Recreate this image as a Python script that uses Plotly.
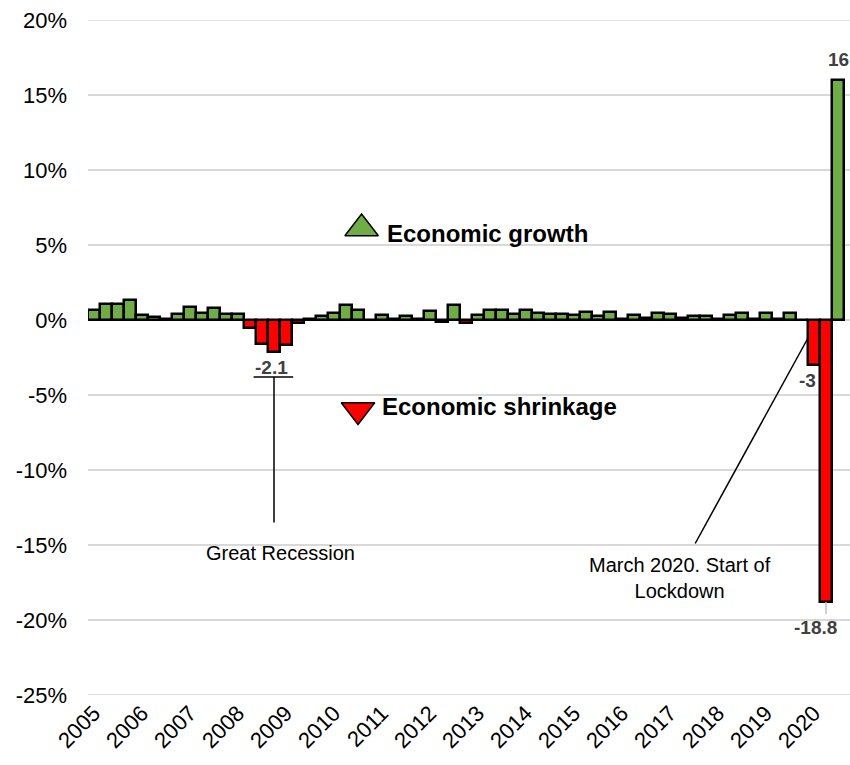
import plotly.graph_objects as go

years = [str(y) for y in range(2005, 2021)]
growth = [
    0.65, 1.05, 1.05, 1.35,   # 2005
    0.35, 0.2, 0.1, 0.4,      # 2006
    0.85, 0.45, 0.8, 0.4,     # 2007
    0.4, -0.55, -1.6, -2.1,   # 2008
    -1.65, -0.2, 0.1, 0.3,    # 2009
    0.5, 1.0, 0.65, 0.0,      # 2010
    0.35, 0.05, 0.3, 0.05,    # 2011
    0.6, -0.1, 1.0, -0.2,     # 2012
    0.35, 0.65, 0.7, 0.4,     # 2013
    0.65, 0.5, 0.4, 0.4,      # 2014
    0.35, 0.55, 0.3, 0.55,    # 2015
    0.1, 0.35, 0.15, 0.45,    # 2016
    0.4, 0.15, 0.3, 0.3,      # 2017
    0.1, 0.35, 0.5, 0.1,      # 2018
    0.45, 0.05, 0.45, 0.0,    # 2019
    -3.0, -18.8, 16.0,        # 2020
]
labelled = {15: "-2.1", 60: "-3", 61: "-18.8", 62: "16"}
label_xshift = {15: -3, 60: -7, 61: -11, 62: 0}
label_yshift = {15: -3, 60: -3, 61: -13, 62: 8}
y_ticks = [20, 15, 10, 5, 0, -5, -10, -15, -20, -25]
y_ticktext = [f"{v}%" for v in y_ticks]

GREEN = "#70AD47"
RED = "#FF0000"
GRID = "#d9d9d9"
FONT = "Arial, Liberation Sans, sans-serif"

xs = list(range(len(growth)))
colors = [GREEN if v >= 0 else RED for v in growth]

fig = go.Figure()
fig.add_trace(go.Bar(
    x=xs, y=growth, marker=dict(color=colors, line=dict(color="black", width=2.5)),
    width=1.0, hoverinfo="skip", showlegend=False, cliponaxis=False,
))

# legend-like triangles
fig.add_trace(go.Scatter(
    x=[22.3], y=[6.1], mode="markers",
    marker=dict(symbol="triangle-up", size=29, color=GREEN, line=dict(color="black", width=1.5)),
    showlegend=False, hoverinfo="skip"))
fig.add_trace(go.Scatter(
    x=[22.0], y=[-6.0], mode="markers",
    marker=dict(symbol="triangle-down", size=29, color=RED, line=dict(color="black", width=1.5)),
    showlegend=False, hoverinfo="skip"))

annotations = []
for i, txt in labelled.items():
    v = growth[i]
    annotations.append(dict(
        x=i, y=v, xref="x", yref="y", text=f"<b>{txt}</b>", showarrow=False,
        xshift=label_xshift[i], yshift=label_yshift[i],
        yanchor="bottom" if v >= 0 else "top",
        font=dict(family=FONT, size=19, color="#404040")))

annotations += [
    dict(x=24.25, y=5.75, xref="x", yref="y", text="<b>Economic growth</b>", showarrow=False,
         xanchor="left", yanchor="middle", font=dict(family=FONT, size=24, color="black")),
    dict(x=23.85, y=-5.75, xref="x", yref="y", text="<b>Economic shrinkage</b>", showarrow=False,
         xanchor="left", yanchor="middle", font=dict(family=FONT, size=24, color="black")),
    dict(x=15.5, y=-15.55, xref="x", yref="y", text="Great Recession", showarrow=False,
         xanchor="center", yanchor="middle", font=dict(family=FONT, size=20, color="black")),
    dict(x=48.8, y=-17.2, xref="x", yref="y", text="March 2020. Start of<br>Lockdown", showarrow=False,
         xanchor="center", yanchor="middle", font=dict(family=FONT, size=20, color="black")),
]

shapes = [
    # edge gridlines (plotly drops gridlines lying on the plot edge)
    dict(type="line", xref="paper", yref="y", x0=0, x1=1, y0=y_ticks[0], y1=y_ticks[0],
         line=dict(color=GRID, width=1.5), layer="below"),
    dict(type="line", xref="paper", yref="y", x0=0, x1=1, y0=y_ticks[-1], y1=y_ticks[-1],
         line=dict(color=GRID, width=1.5), layer="below"),
    dict(type="line", xref="x", yref="y", x0=15, x1=15, y0=-3.8, y1=-13.5,
         line=dict(color="black", width=1.5)),
    dict(type="line", xref="x", yref="y", x0=13.3, x1=16.6, y0=-3.8, y1=-3.8,
         line=dict(color="black", width=1.5)),
    dict(type="line", xref="x", yref="y", x0=50.1, x1=59.5, y0=-14.9, y1=-1.2,
         line=dict(color="black", width=1.5)),
    dict(type="line", xref="x", yref="y", x0=61, x1=61, y0=-18.8, y1=-19.6,
         line=dict(color="#bfbfbf", width=1.5)),
]

fig.update_layout(
    width=850, height=765,
    margin=dict(l=88, r=0, t=20, b=70),
    paper_bgcolor="white", plot_bgcolor="white",
    bargap=0,
    annotations=annotations, shapes=shapes,
    font=dict(family=FONT, color="black"),
    xaxis=dict(
        range=[-0.5, 63.0], tickmode="array",
        tickvals=[4 * i for i in range(len(years))], ticktext=years,
        tickangle=-45, tickfont=dict(family=FONT, size=22, color="black"),
        showgrid=False, zeroline=False, showline=False, ticks="", automargin=False,
    ),
    yaxis=dict(
        range=[-25, 20], tickmode="array", tickvals=y_ticks, ticktext=y_ticktext,
        tickfont=dict(family=FONT, size=22, color="black"),
        showgrid=True, gridcolor=GRID, gridwidth=1.5, ticklabeloverflow="allow",
        zeroline=False, showline=False, ticks="", ticklabelstandoff=20, automargin=False,
    ),
)

# remove the default 8px page margin so the 850x765 figure fills the window exactly
fig.write_html(
    "out.html",
    config={"displayModeBar": False},
    post_script="document.body.style.margin='0';document.documentElement.style.overflow='hidden';",
)
